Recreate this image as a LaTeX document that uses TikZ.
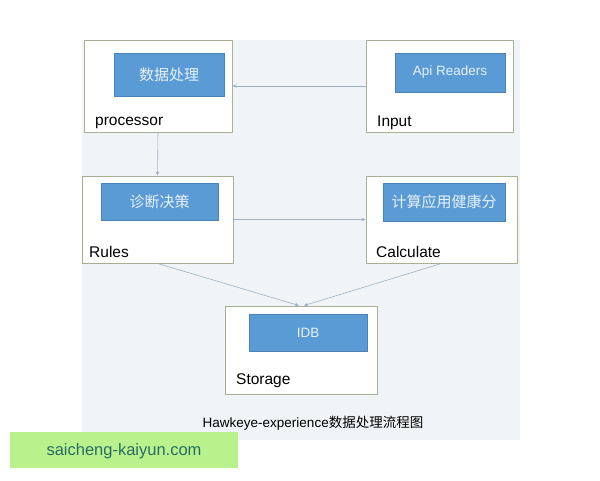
\documentclass[tikz,border=0pt]{standalone}
\usepackage{fontspec}
\setmainfont{Liberation Sans}
\newfontfamily\cjk{Noto Sans CJK SC}
\usetikzlibrary{arrows.meta}
\definecolor{bgc}{HTML}{F1F4F6}
\definecolor{boxline}{HTML}{A9AF95}
\definecolor{bluef}{HTML}{5B9BD5}
\definecolor{bluel}{HTML}{4A82B5}
\definecolor{bluetext}{HTML}{E6F0F9}
\definecolor{arrc}{HTML}{9DB3C4}
\definecolor{wmbg}{HTML}{B9F28C}
\definecolor{wmtext}{HTML}{2A6B66}
\tikzset{
  outerbox/.style={draw=boxline, line width=0.9pt, fill=white, inner sep=0pt},
  bluebox/.style={draw=bluel, line width=0.6pt, fill=bluef, inner sep=0pt, text=bluetext, font=\fontsize{13.5}{15}\selectfont},
  lbl/.style={anchor=west, inner sep=0pt, font=\fontsize{15.5}{17}\selectfont},
  arr/.style={draw=arrc, line width=0.6pt, -{Stealth[length=4pt,width=3.5pt]}}
}
\begin{document}
\begin{tikzpicture}[x=1pt,y=-1pt]
\useasboundingbox (0,0) rectangle (600,480);
\fill[white] (0,0) rectangle (600,480);
\fill[bgc] (82,40) rectangle (520,440);
% outer boxes
\node[outerbox, minimum width=148, minimum height=92] (procbox) at (158,86) {};
\node[outerbox, minimum width=147, minimum height=92] (inbox) at (439.5,86) {};
\node[outerbox, minimum width=151, minimum height=87] (rulesbox) at (157.5,219.5) {};
\node[outerbox, minimum width=151, minimum height=87] (calcbox) at (441.5,219.5) {};
\node[outerbox, minimum width=152, minimum height=88] (storbox) at (301,350) {};
% blue boxes
\node[bluebox, minimum width=110, minimum height=43] (procb) at (169,74.5) {\cjk\fontsize{15}{17}\selectfont 数据处理};
\node[bluebox, minimum width=110, minimum height=39] (inb) at (450,72.5) {Api Readers};
\node[bluebox, minimum width=117, minimum height=37] (rulesb) at (159.5,201.5) {\cjk\fontsize{15}{17}\selectfont 诊断决策};
\node[bluebox, minimum width=122, minimum height=38] (calcb) at (444,202) {\cjk\fontsize{15}{17}\selectfont 计算应用健康分};
\node[bluebox, minimum width=118, minimum height=37] (idbb) at (308,332.5) {IDB};
% labels
\node[lbl] (proclbl) at (95,123) {processor};
\node[lbl] (inlbl) at (377,123) {Input};
\node[lbl] (ruleslbl) at (89,252) {Rules};
\node[lbl] (calclbl) at (376,252) {Calculate};
\node[lbl] (storlbl) at (236,381) {Storage};
% connectors
\draw[arr] (inbox.west) -- (procbox.east);
\draw[arr] (procbox.south) -- (rulesbox.north);
\draw[arr] (rulesbox.east) -- (calcbox.west);
\coordinate (stl) at ([xshift=-2pt]storbox.north);
\coordinate (str) at ([xshift=3pt]storbox.north);
\draw[arr] (rulesbox.south) -- (stl);
\draw[arr] (calcbox.south) -- (str);
% caption
\node[inner sep=0pt, font=\fontsize{13.5}{15}\selectfont] (caption) at (313,423) {Hawkeye-experience{\cjk 数据处理流程图}};
% watermark
\fill[wmbg] (10,432) rectangle (238,468);
\node[inner sep=0pt, text=wmtext, font=\fontsize{16.5}{18}\selectfont] (wm) at (124,451) {saicheng-kaiyun.com};
\end{tikzpicture}
\end{document}
